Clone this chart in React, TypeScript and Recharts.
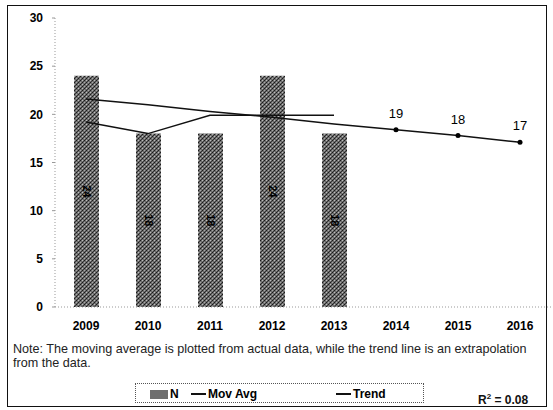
import React from 'react';
import { ComposedChart, Bar, Line, XAxis, YAxis, LabelList } from 'recharts';

const years = ['2009', '2010', '2011', '2012', '2013', '2014', '2015', '2016'];
const nValues = [24, 18, 18, 24, 18, null, null, null];
const movAvg = [19.2, 18.0, 19.9, 19.9, 19.9, null, null, null];
const trend = [21.6, 21.0, 20.3, 19.7, 19.0, 18.4, 17.8, 17.1];
const trendLabels = [null, null, null, null, null, 19, 18, 17];
const yTicks = [0, 5, 10, 15, 20, 25, 30];
const noteLines = [
  'Note: The moving average is plotted from actual data, while the trend line is an extrapolation',
  'from the data.',
];
const legendItems = ['N', 'Mov Avg', 'Trend'];
const rSquared = '0.08';

const data = years.map((year, i) => ({
  year,
  n: nValues[i],
  movAvg: movAvg[i],
  trend: trend[i],
  trendLabel: trendLabels[i],
}));

const font = '"Liberation Sans", Arial, sans-serif';

const TrendDot = (props: any) => {
  const { cx, cy, payload, index } = props;
  if (payload.trendLabel == null) return <g key={index} />;
  return <circle key={index} cx={cx} cy={cy} r={2.5} fill="#000" />;
};

const BarLabel = (props: any) => {
  const { x, y, width, height, value } = props;
  if (value == null) return null;
  const cx = x + width / 2;
  const cy = y + height / 2;
  return (
    <text x={cx} y={cy} transform={`rotate(90 ${cx} ${cy})`} textAnchor="middle" dominantBaseline="central"
      fontFamily={font} fontWeight="bold" fontSize={11} fill="#000">
      {value}
    </text>
  );
};

export default function App() {
  return (
    <div style={{ position: 'absolute', left: 0, top: 0, width: 553, height: 410, background: '#fff' }}>
      <svg width={0} height={0} style={{ position: 'absolute' }}>
        <defs>
          <pattern id="barTexture" width={4} height={4} patternUnits="userSpaceOnUse">
            <rect width={4} height={4} fill="#6e6e6e" />
            <rect x={0} y={0} width={1} height={1} fill="#1a1a1a" />
            <rect x={2} y={2} width={1} height={1} fill="#1a1a1a" />
            <rect x={2} y={0} width={1} height={1} fill="#bdbdbd" />
            <rect x={0} y={2} width={1} height={1} fill="#a8a8a8" />
            <rect x={1} y={3} width={1} height={1} fill="#333" />
            <rect x={3} y={1} width={1} height={1} fill="#3a3a3a" />
          </pattern>
        </defs>
      </svg>
      <div style={{ position: 'absolute', left: 7, top: 5, width: 540, height: 402, border: '1.5px solid #111', boxSizing: 'border-box' }} />
      <div style={{ position: 'absolute', left: 0, top: 0 }}>
        <ComposedChart width={553} height={410} data={data} margin={{ top: 18, right: 2, left: 0, bottom: 73 }}>
          <XAxis dataKey="year" height={30} axisLine={{ stroke: '#999', strokeDasharray: '1 2' }} tickLine={false} tickSize={0} tickMargin={14}
            tick={{ fontFamily: font, fontWeight: 'bold', fontSize: 12, fill: '#000' }} />
          <YAxis domain={[0, 30]} ticks={yTicks} width={55} axisLine={{ stroke: '#999', strokeDasharray: '1 2' }}
            tickLine={{ stroke: '#999' }} tickSize={3} tickMargin={9}
            tick={{ fontFamily: font, fontWeight: 'bold', fontSize: 12, fill: '#000' }} />
          <Bar dataKey="n" barSize={25} fill="url(#barTexture)" isAnimationActive={false}>
            <LabelList dataKey="n" content={BarLabel} />
          </Bar>
          <Line dataKey="movAvg" stroke="#111" strokeWidth={1.5} dot={false} isAnimationActive={false} connectNulls={false} />
          <Line dataKey="trend" stroke="#111" strokeWidth={1.5} dot={TrendDot} activeDot={false} isAnimationActive={false}>
            <LabelList dataKey="trendLabel" position="top" offset={12} style={{ fontFamily: font, fontSize: 13, fill: '#000' }} />
          </Line>
        </ComposedChart>
      </div>
      <div style={{ position: 'absolute', left: 13, top: 342, fontFamily: font, fontSize: 12.6, color: '#222', lineHeight: '14px', whiteSpace: 'nowrap' }}>
        {noteLines.map((l) => <div key={l}>{l}</div>)}
      </div>
      <div style={{ position: 'absolute', left: 135, top: 383, width: 289, height: 20, border: '1px dotted #555', boxSizing: 'border-box' }}>
        <div style={{ position: 'absolute', left: 14, top: 3, display: 'flex', alignItems: 'center', fontFamily: font, fontWeight: 'bold', fontSize: 12 }}>
          <span style={{ display: 'inline-block', width: 18, height: 9, backgroundColor: '#6e6e6e', marginRight: 2 }} />
          <span>{legendItems[0]}</span>
        </div>
        <div style={{ position: 'absolute', left: 55, top: 3, display: 'flex', alignItems: 'center', fontFamily: font, fontWeight: 'bold', fontSize: 12 }}>
          <span style={{ display: 'inline-block', width: 15, height: 1.5, background: '#111', marginRight: 2 }} />
          <span>{legendItems[1]}</span>
        </div>
        <div style={{ position: 'absolute', left: 200, top: 3, display: 'flex', alignItems: 'center', fontFamily: font, fontWeight: 'bold', fontSize: 12 }}>
          <span style={{ display: 'inline-block', width: 15, height: 1.5, background: '#111', marginRight: 2 }} />
          <span>{legendItems[2]}</span>
        </div>
      </div>
      <div style={{ position: 'absolute', left: 478, top: 392, fontFamily: font, fontWeight: 'bold', fontSize: 12, color: '#111' }}>
        R<sup style={{ fontSize: 8 }}>2</sup> = {rSquared}
      </div>
    </div>
  );
}
